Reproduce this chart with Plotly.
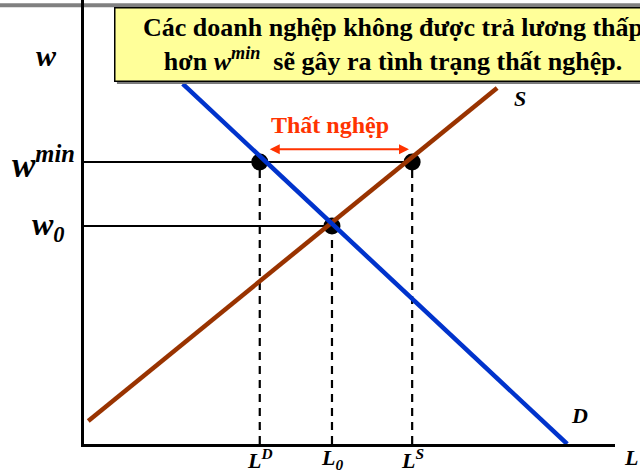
import unicodedata
import plotly.graph_objects as go

def nfc(s):
    return unicodedata.normalize("NFC", s)

# ---- data (economic quantities) ----
L_D = 33.1      # labour demanded at w_min
L_0 = 46.7      # equilibrium employment
L_S = 61.8      # labour supplied at w_min
w_min = 63.5    # minimum wage
w_0 = 49.1      # equilibrium wage

demand_L = [18.6, 91.0]
demand_w = [81.1, 0.0]
supply_L = [0.8, 77.8]
supply_w = [5.2, 80.2]

title_lines = [
    nfc("C\u00e1c doanh ngh\u1ec7p kh\u00f4ng \u0111\u01b0\u1ee3c tr\u1ea3 "
        "l\u01b0\u01a1ng th\u1ea5p"),
    nfc("h\u01a1n <i>w</i><sup><i>min</i></sup>  s\u1ebd g\u00e2y ra "
        "t\u00ecnh tr\u1ea1ng th\u1ea5t ngh\u1ec7p."),
]
unemp_label = nfc("Th\u1ea5t ngh\u1ec7p")

SERIF = "Liberation Serif"
BLUE = "#0033CC"
BROWN = "#993300"
RED = "#FF3300"

fig = go.Figure()

fig.add_trace(go.Scatter(x=[0, L_S], y=[w_min, w_min], mode="lines",
                         line=dict(color="black", width=2), hoverinfo="skip"))
fig.add_trace(go.Scatter(x=[0, L_0], y=[w_0, w_0], mode="lines",
                         line=dict(color="black", width=2), hoverinfo="skip"))
for Lx, wy in [(L_D, w_min), (L_0, w_0), (L_S, w_min)]:
    fig.add_trace(go.Scatter(x=[Lx, Lx], y=[0, wy], mode="lines",
                             line=dict(color="black", width=2.2, dash="8px,6px"),
                             hoverinfo="skip"))
fig.add_trace(go.Scatter(x=[L_D, L_S, L_0], y=[w_min, w_min, w_0], mode="markers",
                         marker=dict(color="black", size=17), cliponaxis=False,
                         hoverinfo="skip"))
fig.add_trace(go.Scatter(x=supply_L, y=supply_w, mode="lines",
                         line=dict(color=BROWN, width=4.5), hoverinfo="skip"))
fig.add_trace(go.Scatter(x=demand_L, y=demand_w, mode="lines",
                         line=dict(color=BLUE, width=4.5), hoverinfo="skip"))

# top gray rule (slide decoration)
fig.add_shape(type="line", xref="paper", yref="paper",
              x0=-0.16, x1=1.06, y0=0.988, y1=0.988,
              line=dict(color="#808080", width=4), layer="below")
# shadow of the yellow box
fig.add_shape(type="rect", xref="paper", yref="paper",
              x0=0.062, x1=1.12, y0=0.811, y1=0.980,
              line=dict(width=0), fillcolor="#7a7a7a", layer="above")

ann = []
ann.append(dict(x=58.2, y=90.0, xref="x", yref="y", showarrow=False,
                text="<br>".join(title_lines),
                align="center", width=549, height=66,
                font=dict(family=SERIF, size=26, color="black", weight="bold",
                          style="normal"),
                bgcolor="#FFFF99", bordercolor="black", borderwidth=1.5,
                borderpad=3, xanchor="center", yanchor="middle"))
ann.append(dict(x=L_S - 0.6, y=66.4, ax=L_D + 1.6, ay=66.4,
                xref="x", yref="y", axref="x", ayref="y", text="",
                showarrow=True, arrowhead=2, startarrowhead=2,
                arrowside="end+start", arrowsize=1, arrowwidth=2,
                arrowcolor=RED))
ann.append(dict(x=L_0 - 0.4, y=71.8, xref="x", yref="y", showarrow=False,
                text=unemp_label,
                font=dict(family=SERIF, size=24, color=RED, weight="bold",
                          style="normal")))

lab_font = dict(family=SERIF, size=30, color="black", weight="bold", style="italic")
ann.append(dict(x=-0.070, y=87.6, xref="paper", yref="y", showarrow=False,
                xanchor="center", text="w", font=lab_font))
ann.append(dict(x=-0.077, y=w_min, xref="paper", yref="y", showarrow=False,
                xanchor="center", text="w<sup>min</sup>",
                font=dict(lab_font, size=35)))
ann.append(dict(x=-0.066, y=w_0, xref="paper", yref="y", showarrow=False,
                xanchor="center", text="w<sub>0</sub>",
                font=dict(lab_font, size=32)))

ax_font = dict(family=SERIF, size=22, color="black", weight="bold", style="italic")
for Lx, txt in [(L_D, "L<sup>D</sup>"), (L_0, "L<sub>0</sub>"), (L_S, "L<sup>S</sup>")]:
    ann.append(dict(x=Lx, y=0, xref="x", yref="paper", showarrow=False,
                    text=txt, font=ax_font, yanchor="top", yshift=1))
ann.append(dict(x=1.03, y=0, xref="paper", yref="paper", showarrow=False,
                xanchor="center", text="L", font=ax_font, yanchor="top", yshift=1))
ann.append(dict(x=82.1, y=77.9, xref="x", yref="y", showarrow=False,
                text="S", font=ax_font))
ann.append(dict(x=93.4, y=6.5, xref="x", yref="y", showarrow=False,
                text="D", font=ax_font))

fig.update_layout(
    width=640, height=473,
    margin=dict(l=84, r=25, t=0, b=29),
    paper_bgcolor="white", plot_bgcolor="white",
    showlegend=False,
    annotations=ann,
    xaxis=dict(range=[0, 100], showgrid=False, zeroline=False, showticklabels=False,
               ticks="", showline=True, linecolor="black", linewidth=3),
    yaxis=dict(range=[0, 100], showgrid=False, zeroline=False, showticklabels=False,
               ticks="", showline=True, linecolor="black", linewidth=3),
)

fig.write_html("out.html", config={"displayModeBar": False},
               post_script="document.body.style.margin='0';")
